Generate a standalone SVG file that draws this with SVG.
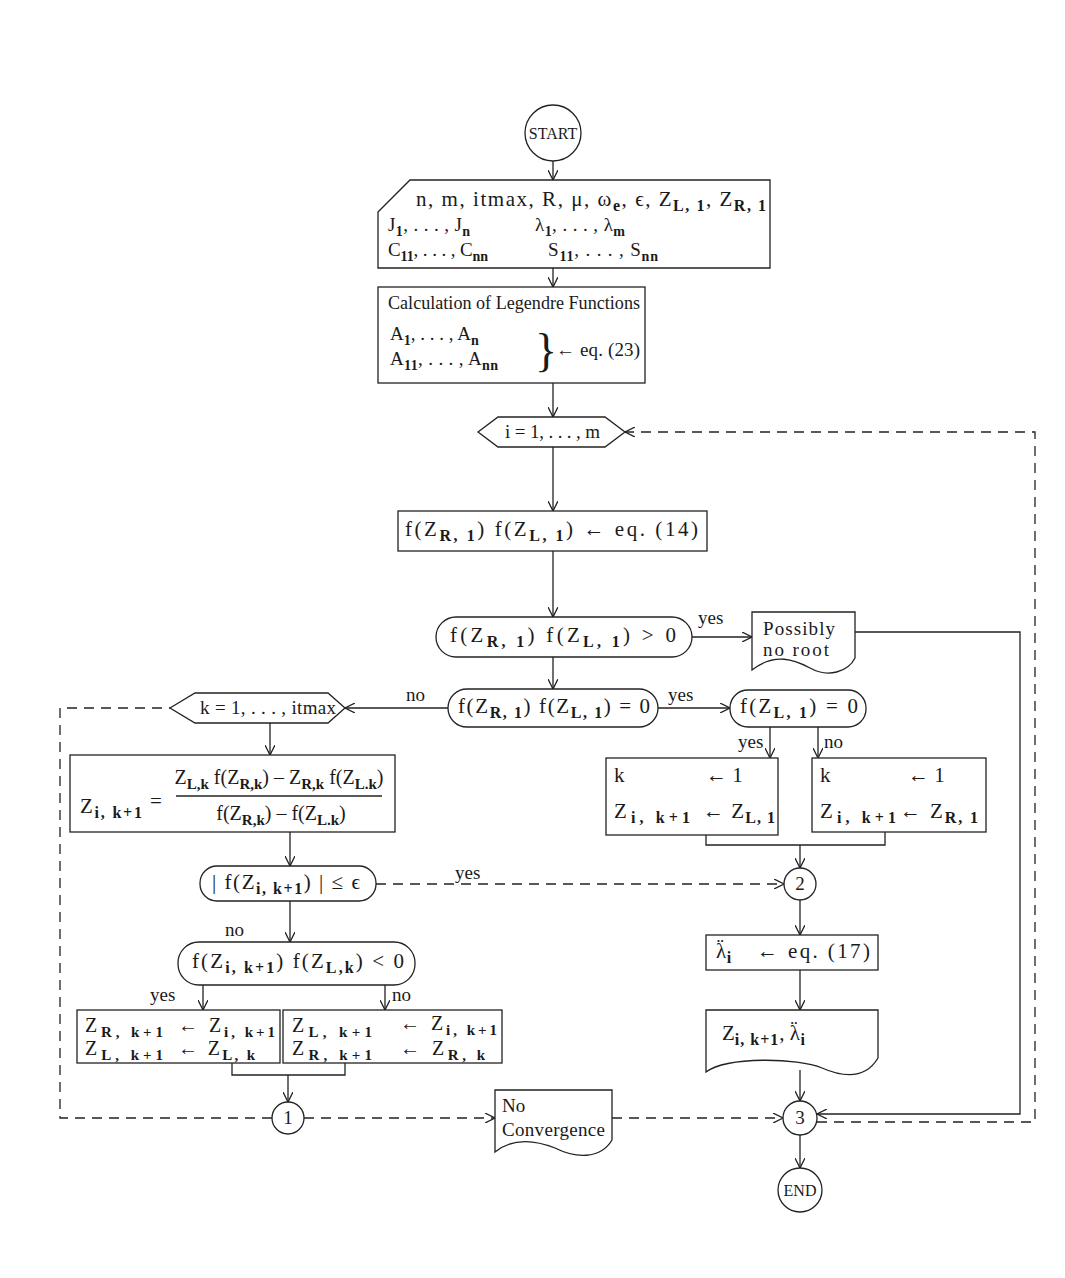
<svg xmlns="http://www.w3.org/2000/svg" width="1065" height="1278" viewBox="0 0 1065 1278">
<defs>
<style>
.t{font-family:"Liberation Serif","DejaVu Serif",serif;font-size:19px;fill:#1a1a1a}
.s{font-size:14px;font-weight:bold}
.f{font-size:21px}
.f .s{font-size:16px}
.c{text-anchor:middle}
.sh{stroke:#222;stroke-width:1.3;fill:#fff}
.ln{stroke:#222;stroke-width:1.3;fill:none}
.d{stroke-dasharray:10 7}
</style>
<marker id="a" viewBox="0 0 10 10" refX="10" refY="5" markerWidth="10" markerHeight="10" orient="auto" markerUnits="userSpaceOnUse"><path d="M0,0 L10,5 L0,10" fill="none" stroke="#222" stroke-width="1.3"/></marker>
</defs>
<rect width="1065" height="1278" fill="#fff"/>

<g id="connectors">
<path class="ln" d="M553,161 L553,180" marker-end="url(#a)"/>
<path class="ln" d="M553,268 L553,287" marker-end="url(#a)"/>
<path class="ln" d="M553,383 L553,417" marker-end="url(#a)"/>
<path class="ln" d="M553,447 L553,511" marker-end="url(#a)"/>
<path class="ln" d="M553,551 L553,617" marker-end="url(#a)"/>
<path class="ln" d="M692,637 L752,637" marker-end="url(#a)"/>
<path class="ln" d="M855,632 L1020,632 L1020,1114 L817,1114" marker-end="url(#a)"/>
<path class="ln" d="M553,657 L553,689" marker-end="url(#a)"/>
<path class="ln" d="M448,708 L345,708" marker-end="url(#a)"/>
<path class="ln" d="M658,708 L730,708" marker-end="url(#a)"/>
<path class="ln" d="M770,727 L770,758" marker-end="url(#a)"/>
<path class="ln" d="M818,727 L818,758" marker-end="url(#a)"/>
<path class="ln" d="M706,835 L706,845 L885,845 L885,832"/>
<path class="ln" d="M800,845 L800,868" marker-end="url(#a)"/>
<path class="ln d" d="M376,884 L784,884" marker-end="url(#a)"/>
<path class="ln" d="M800,900 L800,935" marker-end="url(#a)"/>
<path class="ln" d="M800,970 L800,1010" marker-end="url(#a)"/>
<path class="ln" d="M800,1070 L800,1101" marker-end="url(#a)"/>
<path class="ln" d="M800,1135 L800,1168" marker-end="url(#a)"/>
<path class="ln" d="M270,723 L270,755" marker-end="url(#a)"/>
<path class="ln" d="M290,832 L290,866" marker-end="url(#a)"/>
<path class="ln" d="M290,901 L290,942" marker-end="url(#a)"/>
<path class="ln" d="M203,985 L203,1010" marker-end="url(#a)"/>
<path class="ln" d="M385,985 L385,1010" marker-end="url(#a)"/>
<path class="ln" d="M232,1063 L232,1075 L345,1075 L345,1063"/>
<path class="ln" d="M288,1075 L288,1102" marker-end="url(#a)"/>
<path class="ln d" d="M272,1118 L60,1118 L60,708 L170,708"/>
<path class="ln d" d="M304,1118 L495,1118" marker-end="url(#a)"/>
<path class="ln d" d="M612,1118 L783,1118" marker-end="url(#a)"/>
<path class="ln d" d="M817,1122 L1035,1122 L1035,432 L625,432" marker-end="url(#a)"/>
<text class="t" x="698" y="624">yes</text>
<text class="t" x="406" y="701">no</text>
<text class="t" x="668" y="701">yes</text>
<text class="t" x="738" y="748">yes</text>
<text class="t" x="824" y="748">no</text>
<text class="t" x="455" y="879">yes</text>
<text class="t" x="225" y="936">no</text>
<text class="t" x="150" y="1001">yes</text>
<text class="t" x="392" y="1001">no</text>
</g>

<g id="start">
<circle class="sh" cx="553" cy="133" r="28"/>
<text class="t c" x="553" y="139" style="font-size:16px">START</text>
</g>

<g id="input">
<path class="sh" d="M378,212 L410,180 L770,180 L770,268 L378,268 Z"/>
<text class="t f" x="416" y="206" textLength="350" lengthAdjust="spacing">n, m, itmax, R, μ, ω<tspan class="s" dy="5">e</tspan><tspan dy="-5">, ϵ, Z</tspan><tspan class="s" dy="5">L, 1</tspan><tspan dy="-5">, Z</tspan><tspan class="s" dy="5">R, 1</tspan></text>
<text class="t" x="388" y="231" textLength="82" lengthAdjust="spacing">J<tspan class="s" dy="5">1</tspan><tspan dy="-5">, . . . , J</tspan><tspan class="s" dy="5">n</tspan></text>
<text class="t" x="535" y="231" textLength="90" lengthAdjust="spacing">λ<tspan class="s" dy="5">1</tspan><tspan dy="-5">, . . . , λ</tspan><tspan class="s" dy="5">m</tspan></text>
<text class="t" x="388" y="256" textLength="100" lengthAdjust="spacing">C<tspan class="s" dy="5">11</tspan><tspan dy="-5">, . . . , C</tspan><tspan class="s" dy="5">nn</tspan></text>
<text class="t" x="548" y="256" textLength="110" lengthAdjust="spacing">S<tspan class="s" dy="5">11</tspan><tspan dy="-5">, . . . , S</tspan><tspan class="s" dy="5">nn</tspan></text>
</g>

<g id="legendre">
<rect class="sh" x="378" y="287" width="267" height="96"/>
<text class="t" x="388" y="309" textLength="252" lengthAdjust="spacingAndGlyphs">Calculation of Legendre Functions</text>
<text class="t" x="390" y="340">A<tspan class="s" dy="5">1</tspan><tspan dy="-5">, . . . , A</tspan><tspan class="s" dy="5">n</tspan></text>
<text class="t" x="390" y="365" textLength="108" lengthAdjust="spacing">A<tspan class="s" dy="5">11</tspan><tspan dy="-5">, . . . , A</tspan><tspan class="s" dy="5">nn</tspan></text>
<text class="t" x="535" y="366" style="font-size:46px">}</text>
<text class="t" x="556" y="356" textLength="84" lengthAdjust="spacing">← eq. (23)</text>
</g>

<g id="loop-i">
<polygon class="sh" points="478,432 498,417 605,417 625,432 605,447 498,447"/>
<text class="t" x="505" y="438" textLength="95" lengthAdjust="spacing">i = 1, . . . , m</text>
</g>

<g id="eval-f">
<rect class="sh" x="398" y="511" width="309" height="40"/>
<text class="t f" x="405" y="536" textLength="293" lengthAdjust="spacing">f(Z<tspan class="s" dy="5">R, 1</tspan><tspan dy="-5">) f(Z</tspan><tspan class="s" dy="5">L, 1</tspan><tspan dy="-5">) ← eq. (14)</tspan></text>
</g>

<g id="dec-gt0">
<rect class="sh" x="436" y="617" width="256" height="40" rx="20"/>
<text class="t f" x="450" y="642" textLength="226" lengthAdjust="spacing">f(Z<tspan class="s" dy="5">R, 1</tspan><tspan dy="-5">) f(Z</tspan><tspan class="s" dy="5">L, 1</tspan><tspan dy="-5">) &gt; 0</tspan></text>
</g>

<g id="no-root">
<path class="sh" d="M752,612 L855,612 L855,658 C 848,672 828,678 810,668 C 795,660 775,652 752,670 Z"/>
<text class="t" x="763" y="635" textLength="72" lengthAdjust="spacing">Possibly</text>
<text class="t" x="763" y="656" textLength="66" lengthAdjust="spacing">no root</text>
</g>

<g id="dec-eq0">
<rect class="sh" x="448" y="689" width="210" height="38" rx="19"/>
<text class="t f" x="458" y="713" textLength="192" lengthAdjust="spacing">f(Z<tspan class="s" dy="5">R, 1</tspan><tspan dy="-5">) f(Z</tspan><tspan class="s" dy="5">L, 1</tspan><tspan dy="-5">) = 0</tspan></text>
</g>

<g id="loop-k">
<polygon class="sh" points="170,708 195,693 328,693 345,708 328,723 195,723"/>
<text class="t" x="200" y="714" textLength="136" lengthAdjust="spacing">k = 1, . . . , itmax</text>
</g>

<g id="dec-zl">
<rect class="sh" x="730" y="690" width="136" height="37" rx="18"/>
<text class="t f" x="740" y="713" textLength="118" lengthAdjust="spacing">f(Z<tspan class="s" dy="5">L, 1</tspan><tspan dy="-5">) = 0</tspan></text>
</g>

<g id="set-l">
<rect class="sh" x="606" y="758" width="172" height="77"/>
<text class="t f" x="614" y="782">k</text>
<text class="t f" x="706" y="782">← 1</text>
<text class="t f" x="614" y="818" textLength="76" lengthAdjust="spacing">Z<tspan class="s" dy="5">i, k+1</tspan></text>
<text class="t f" x="703" y="818" textLength="72" lengthAdjust="spacing">← Z<tspan class="s" dy="5">L, 1</tspan></text>
</g>

<g id="set-r">
<rect class="sh" x="812" y="758" width="174" height="74"/>
<text class="t f" x="820" y="782">k</text>
<text class="t f" x="908" y="782">← 1</text>
<text class="t f" x="820" y="818" textLength="76" lengthAdjust="spacing">Z<tspan class="s" dy="5">i, k+1</tspan></text>
<text class="t f" x="900" y="818" textLength="78" lengthAdjust="spacing">← Z<tspan class="s" dy="5">R, 1</tspan></text>
</g>

<g id="secant">
<rect class="sh" x="70" y="755" width="325" height="77"/>
<text class="t f" x="80" y="813" textLength="62" lengthAdjust="spacing">Z<tspan class="s" dy="5">i, k+1</tspan></text>
<text class="t f" x="150" y="808">=</text>
<text class="t c" x="279" y="784" style="font-size:20px">Z<tspan class="s" dy="5" style="font-size:15px">L,k</tspan><tspan dy="-5"> f(Z</tspan><tspan class="s" dy="5" style="font-size:15px">R,k</tspan><tspan dy="-5">) – Z</tspan><tspan class="s" dy="5" style="font-size:15px">R,k</tspan><tspan dy="-5"> f(Z</tspan><tspan class="s" dy="5" style="font-size:15px">L.k</tspan><tspan dy="-5">)</tspan></text>
<line class="ln" x1="176" y1="796" x2="382" y2="796"/>
<text class="t c" x="281" y="820" style="font-size:20px">f(Z<tspan class="s" dy="5" style="font-size:15px">R,k</tspan><tspan dy="-5">) – f(Z</tspan><tspan class="s" dy="5" style="font-size:15px">L.k</tspan><tspan dy="-5">)</tspan></text>
</g>

<g id="dec-conv">
<rect class="sh" x="200" y="866" width="176" height="35" rx="17"/>
<text class="t f" x="212" y="889" textLength="148" lengthAdjust="spacing">| f(Z<tspan class="s" dy="5">i, k+1</tspan><tspan dy="-5">) | ≤ ϵ</tspan></text>
</g>

<g id="dec-sign">
<rect class="sh" x="178" y="942" width="237" height="43" rx="21"/>
<text class="t f" x="192" y="968" textLength="212" lengthAdjust="spacing">f(Z<tspan class="s" dy="5">i, k+1</tspan><tspan dy="-5">) f(Z</tspan><tspan class="s" dy="5">L,k</tspan><tspan dy="-5">) &lt; 0</tspan></text>
</g>

<g id="upd-r">
<rect class="sh" x="77" y="1010" width="203" height="53"/>
<text class="t" x="85" y="1032" textLength="78" lengthAdjust="spacing" style="font-size:20px">Z<tspan class="s" dy="5" style="font-size:15px">R, k+1</tspan></text>
<text class="t" x="178" y="1032" textLength="97" lengthAdjust="spacing" style="font-size:20px">← Z<tspan class="s" dy="5" style="font-size:15px">i, k+1</tspan></text>
<text class="t" x="85" y="1055" textLength="78" lengthAdjust="spacing" style="font-size:20px">Z<tspan class="s" dy="5" style="font-size:15px">L, k+1</tspan></text>
<text class="t" x="178" y="1055" textLength="77" lengthAdjust="spacing" style="font-size:20px">← Z<tspan class="s" dy="5" style="font-size:15px">L, k</tspan></text>
</g>

<g id="upd-l">
<rect class="sh" x="283" y="1010" width="219" height="53"/>
<text class="t" x="292" y="1032" textLength="80" lengthAdjust="spacing" style="font-size:20px">Z<tspan class="s" dy="5" style="font-size:15px">L, k+1</tspan></text>
<text class="t" x="400" y="1030" textLength="97" lengthAdjust="spacing" style="font-size:20px">← Z<tspan class="s" dy="5" style="font-size:15px">i, k+1</tspan></text>
<text class="t" x="292" y="1055" textLength="80" lengthAdjust="spacing" style="font-size:20px">Z<tspan class="s" dy="5" style="font-size:15px">R, k+1</tspan></text>
<text class="t" x="400" y="1055" textLength="85" lengthAdjust="spacing" style="font-size:20px">← Z<tspan class="s" dy="5" style="font-size:15px">R, k</tspan></text>
</g>

<g id="conn-1">
<circle class="sh" cx="288" cy="1118" r="16"/>
<text class="t c" x="288" y="1124">1</text>
</g>

<g id="no-conv">
<path class="sh" d="M495,1090 L612,1090 L612,1140 C 600,1160 575,1158 555,1148 C 530,1138 510,1140 495,1152 Z"/>
<text class="t" x="502" y="1112">No</text>
<text class="t" x="502" y="1136" textLength="103" lengthAdjust="spacing">Convergence</text>
</g>

<g id="conn-2">
<circle class="sh" cx="800" cy="884" r="16"/>
<text class="t c" x="800" y="890">2</text>
</g>

<g id="lambda">
<rect class="sh" x="706" y="935" width="172" height="35"/>
<text class="t f" x="716" y="958">λ<tspan dx="-9.5" dy="-5">¨</tspan><tspan class="s" dx="3" dy="10">i</tspan></text>
<text class="t f" x="757" y="958" textLength="113" lengthAdjust="spacing">← eq. (17)</text>
</g>

<g id="output">
<path class="sh" d="M706,1010 L878,1010 L878,1058 C 866,1078 845,1078 822,1068 C 798,1058 728,1056 706,1072 Z"/>
<text class="t f" x="722" y="1040">Z<tspan class="s" dy="5" letter-spacing="1">i, k+1</tspan><tspan dy="-5">, λ</tspan><tspan dx="-9.5" dy="-5">¨</tspan><tspan class="s" dx="3" dy="10">i</tspan></text>
</g>

<g id="conn-3">
<circle class="sh" cx="800" cy="1118" r="17"/>
<text class="t c" x="800" y="1124">3</text>
</g>

<g id="end">
<circle class="sh" cx="800" cy="1190" r="22"/>
<text class="t c" x="800" y="1196" style="font-size:16px">END</text>
</g>
</svg>
